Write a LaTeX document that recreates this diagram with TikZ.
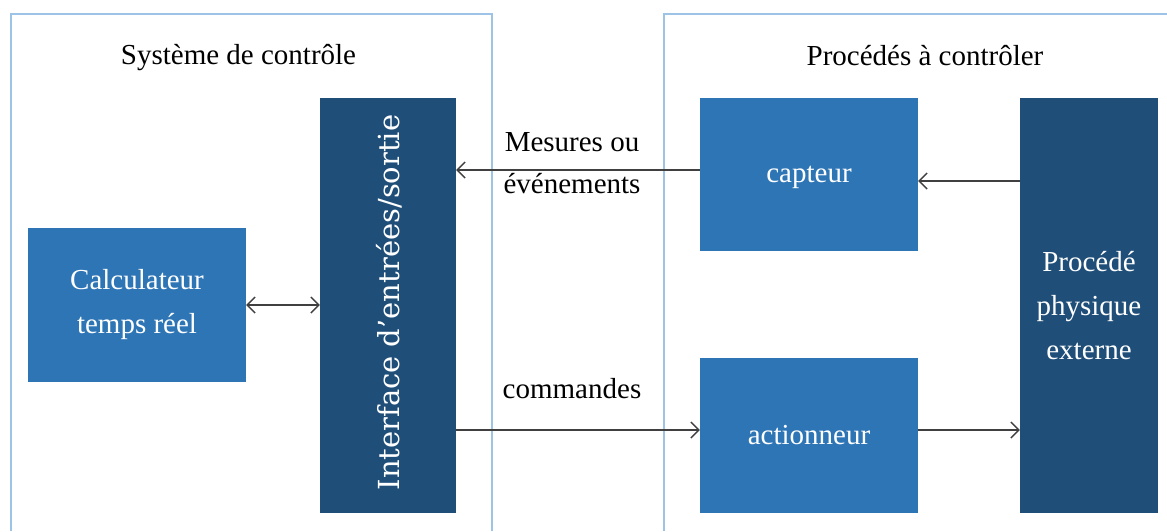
\documentclass[tikz,border=0pt]{standalone}
\usepackage{fontspec}
\setmainfont{Liberation Serif}
\newfontfamily\slabfont{DejaVu Serif}
\usetikzlibrary{arrows.meta}
\definecolor{midblue}{HTML}{2E75B6}
\definecolor{darkblue}{HTML}{1F4E79}
\definecolor{frameblue}{HTML}{9DC3E6}
\definecolor{arrowgray}{HTML}{404040}
\begin{document}
\begin{tikzpicture}[x=1pt,y=-1pt,
  box/.style={fill=midblue, draw=none, text=white, align=center,
    font=\fontsize{29}{44}\selectfont, inner sep=0pt},
  darkbox/.style={box, fill=darkblue},
  frame/.style={draw=frameblue, line width=1.5pt},
  conn/.style={draw=arrowgray, line width=1.4pt, -{Straight Barb[length=8pt,width=16pt]}},
  biconn/.style={conn, {Straight Barb[length=8pt,width=16pt]}-{Straight Barb[length=8pt,width=16pt]}},
  lbl/.style={font=\fontsize{29}{42}\selectfont, align=center, inner sep=0pt}]
\useasboundingbox (0,0) rectangle (1167,531);
\fill[white] (0,0) rectangle (1167,531);
% frames
\draw[frame] (11,531) -- (11,14) -- (492,14) -- (492,531);
\draw[frame] (664,531) -- (664,14) -- (1167,14);
\node[lbl, anchor=base] (t1) at (238.5,64) {Système de contrôle};
\node[lbl, anchor=base] (t2) at (925,65) {Procédés à contrôler};
% boxes
\node[box, minimum width=218pt, minimum height=154pt] (calc) at (137,305) {Calculateur\\temps réel};
\node[darkbox, minimum width=136pt, minimum height=415pt] (iface) at (388,305.5) {};
\node[text=white, rotate=90, inner sep=0pt, font=\slabfont\fontsize{29}{34}\selectfont] (ifacetxt) at (389,302.5) {Interface d’entrées/sortie};
\node[box, minimum width=218pt, minimum height=153pt, text depth=0pt] (capteur) at (809,174.5) {capteur};
\node[box, minimum width=218pt, minimum height=155pt] (act) at (809,435.5) {actionneur};
\node[darkbox, minimum width=138pt, minimum height=415pt] (proc) at (1089,305.5) {Procédé\\physique\\externe};
% labels
\node[lbl] (mes) at (572,163) {Mesures ou\\événements};
\node[lbl, anchor=base] (cmd) at (572,398) {commandes};
% connectors
\draw[biconn] (calc.east) -- (calc.east -| iface.west);
\coordinate (cm) at (capteur.west |- 0,170);
\draw[conn] (cm) -- (cm -| iface.east);
\coordinate (pc) at (proc.west |- 0,181);
\draw[conn] (pc) -- (pc -| capteur.east);
\coordinate (ic) at (iface.east |- 0,430);
\draw[conn] (ic) -- (ic -| act.west);
\coordinate (ap) at (act.east |- 0,430);
\draw[conn] (ap) -- (ap -| proc.west);
\end{tikzpicture}
\end{document}
